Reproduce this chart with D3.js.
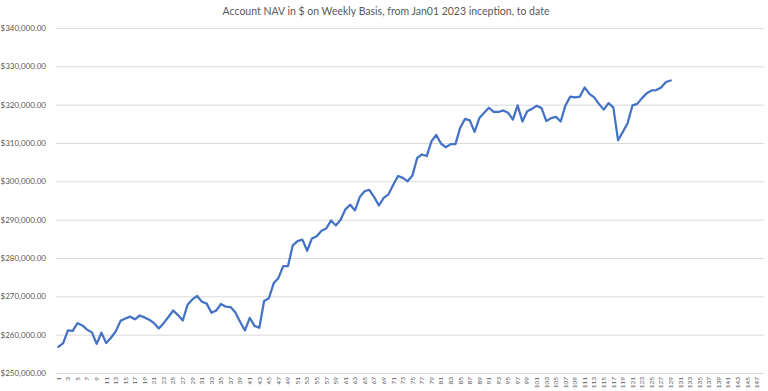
<!DOCTYPE html>
<html>
<head>
<meta charset="utf-8">
<script src="https://cdn.jsdelivr.net/npm/d3@7"></script>
<style>
  html, body { margin: 0; padding: 0; background: #ffffff; }
  svg { display: block; font-family: Lato, "Open Sans", sans-serif; }
</style>
</head>
<body>
<svg id="chart" width="768" height="391"></svg>
<script>
const titleText = "Account NAV in $ on Weekly Basis, from Jan01 2023 inception, to date";
const weeks = d3.range(1, 149);
const xTickLabels = weeks.filter(w => w % 2 === 1);
const yTicks = [250000, 260000, 270000, 280000, 290000, 300000, 310000, 320000, 330000, 340000];
const nav = [
  256800, 257800, 261100, 261000, 263000, 262400, 261300, 260600, 257600, 260500,
  257800, 259200, 260900, 263600, 264200, 264700, 264000, 265000, 264500, 263900,
  263000, 261600, 263000, 264600, 266300, 265100, 263700, 267800, 269200, 270100,
  268600, 268100, 265700, 266300, 268000, 267300, 267200, 265800, 263300, 261100,
  264400, 262300, 261800, 268800, 269500, 273400, 274800, 277900, 277900, 283300,
  284400, 284800, 281900, 285100, 285700, 287100, 287700, 289800, 288500, 290000,
  292700, 293900, 292400, 295900, 297400, 297800, 295900, 293700, 295700, 296600,
  299100, 301400, 300900, 300000, 301500, 306100, 307000, 306600, 310500, 312100,
  309800, 308900, 309700, 309700, 314000, 316300, 315900, 312900, 316500, 317900,
  319200, 318100, 318100, 318500, 317900, 316100, 319800, 315600, 318300, 318900,
  319700, 319100, 315700, 316500, 316800, 315600, 319800, 322100, 321900, 322100,
  324500, 322800, 321900, 320200, 318700, 320400, 319300, 310700, 312900, 315200,
  319800, 320200, 321700, 323000, 323700, 323800, 324500, 325900, 326300
];

const svg = d3.select("#chart");
const margin = { left: 56, right: 4, top: 28, bottom: 18 };
const W = 768, H = 391;

const x = d3.scaleBand().domain(weeks).range([margin.left, W - margin.right]).padding(0);
const y = d3.scaleLinear().domain([250000, 340000]).range([H - margin.bottom, margin.top]);

// title
svg.append("text")
  .attr("x", 386).attr("y", 15)
  .attr("text-anchor", "middle")
  .attr("font-size", 10.5)
  .attr("fill", "#595959")
  .text(titleText);

// gridlines + y labels
const yAxis = d3.axisLeft(y)
  .tickValues(yTicks)
  .tickSize(-(W - margin.left - margin.right))
  .tickPadding(10)
  .tickFormat(d => "$" + d3.format(",.2f")(d));
const gy = svg.append("g").attr("transform", `translate(${margin.left},0)`).call(yAxis);
gy.select(".domain").remove();
gy.selectAll(".tick line").attr("stroke", "#d9d9d9").attr("stroke-width", 1);
gy.selectAll(".tick text").attr("fill", "#595959").attr("font-size", 8).attr("font-family", "Lato, sans-serif");

// x axis labels
const xAxis = d3.axisBottom(x)
  .tickValues(xTickLabels)
  .tickSize(0)
  .tickPadding(0);
const gx = svg.append("g").attr("transform", `translate(0,${y(250000)})`).call(xAxis);
gx.select(".domain").remove();
gx.selectAll(".tick text")
  .attr("fill", "#595959")
  .attr("font-size", 6.5)
  .attr("font-family", "Lato, sans-serif")
  .attr("transform", "rotate(-90)")
  .attr("text-anchor", "end")
  .attr("x", -4)
  .attr("y", 0)
  .attr("dy", "0.35em");

// line
const line = d3.line()
  .x((d, i) => x(weeks[i]) + x.bandwidth() / 2)
  .y(d => y(d));
svg.append("path")
  .datum(nav)
  .attr("fill", "none")
  .attr("stroke", "#4472C4")
  .attr("stroke-width", 2.25)
  .attr("stroke-linejoin", "round")
  .attr("stroke-linecap", "round")
  .attr("d", line);
</script>
</body>
</html>
